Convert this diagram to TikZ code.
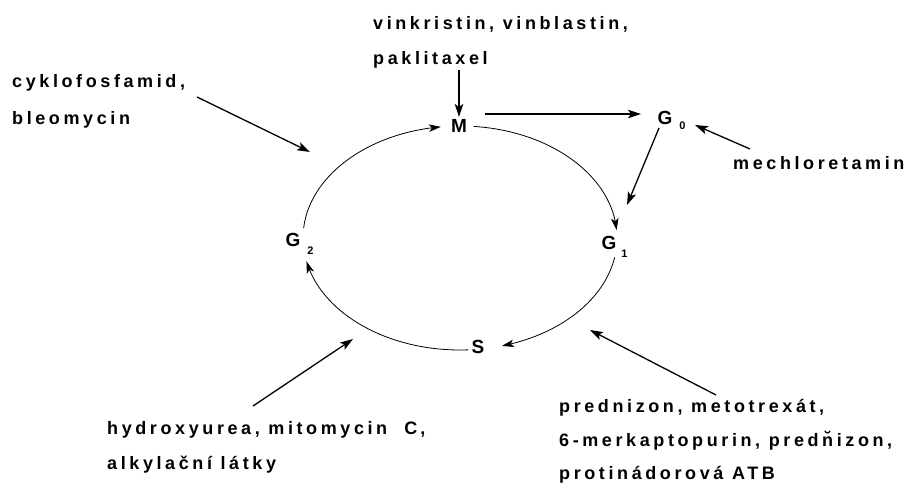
\documentclass[tikz,border=0pt]{standalone}
\usepackage{fontspec}
\setmainfont{Liberation Sans}
\newfontfamily\spc[LetterSpace=20]{Liberation Sans}
\usetikzlibrary{arrows.meta,bending,calc}
\begin{document}
\begin{tikzpicture}[x=1pt,y=1pt,
  lbl/.style={anchor=base west,inner sep=0pt,font=\spc\bfseries\fontsize{18}{21}\selectfont},
  ph/.style={inner sep=0pt,font=\bfseries\fontsize{19}{22}\selectfont},
  arr/.style={line width=1.3pt,-{Stealth[length=13pt,width=8.5pt,inset=3pt]}},
  cyc/.style={line width=0.8pt,-{Stealth[length=12pt,width=7.5pt,inset=3pt,flex]}}]
\fill[white] (0,0) rectangle (912,494);
\useasboundingbox (0,0) rectangle (912,494);

% phases
\node[ph] (M) at (459,368) {M};
\node[ph] (G0) at (665,376) {G\rlap{\kern7pt\raisebox{-5pt}[0pt][0pt]{\fontsize{11}{11}\selectfont 0}}};
\node[ph] (G1) at (609,251) {G\rlap{\kern5pt\raisebox{-8pt}[0pt][0pt]{\fontsize{11}{11}\selectfont 1}}};
\node[ph] (G2) at (293,254) {G\rlap{\kern7pt\raisebox{-8pt}[0pt][0pt]{\fontsize{11}{11}\selectfont 2}}};
\node[ph] (S) at (478,147) {S};

% labels
\node[lbl] (cy1) at (12,406) {cyklofosfamid,};
\node[lbl] (cy2) at (12,369) {bleomycin};
\node[lbl] (vi1) at (373,464) {vinkristin, vinblastin,};
\node[lbl] (vi2) at (373,429) {paklitaxel};
\node[lbl] (me) at (733,324) {mechloretamin};
\node[lbl] (hy1) at (107,59) {hydroxyurea, mitomycin\ \ C\,,};
\node[lbl] (hy2) at (107,24) {alkylační látky};
\node[lbl] (pr1) at (559,81) {prednizon, metotrexát,};
\node[lbl] (pr2) at (559,47) {6-merkaptopurin, pred\u{n}izon,};
\node[lbl] (pr3) at (559,14) {protinádorová ATB};

% cycle
\coordinate (C) at (460,256);
\draw[cyc] ($(C)+(85:157 and 112)$) arc[start angle=85,end angle=4,x radius=157,y radius=112];
\draw[cyc] ($(C)+(-10:157 and 112)$) arc[start angle=-10,end angle=-74.5,x radius=157,y radius=112];
\draw[cyc] ($(C)+(-87:157 and 112)$) arc[start angle=-87,end angle=-168,x radius=157,y radius=112];
\draw[cyc] ($(C)+(175:157 and 112)$) arc[start angle=175,end angle=97,x radius=157,y radius=112];

% drug arrows
\coordinate (a1s) at (197,397); \coordinate (a1e) at (310,342);
\coordinate (a2s) at (459,424); \coordinate (a2e) at (459,377);
\coordinate (a3s) at (485,380); \coordinate (a3e) at (641,380);
\coordinate (a4s) at (750,345); \coordinate (a4e) at (695,369);
\coordinate (a5s) at (659,366); \coordinate (a5e) at (627,289);
\coordinate (a6s) at (253,88);  \coordinate (a6e) at (353,155);
\coordinate (a7s) at (716,99);  \coordinate (a7e) at (590,164);
\draw[arr] (a1s) -- (a1e);
\draw[arr] (a2s) -- (a2e);
\draw[arr] (a3s) -- (a3e);
\draw[arr] (a4s) -- (a4e);
\draw[arr] (a5s) -- (a5e);
\draw[arr] (a6s) -- (a6e);
\draw[arr] (a7s) -- (a7e);
\end{tikzpicture}
\end{document}
